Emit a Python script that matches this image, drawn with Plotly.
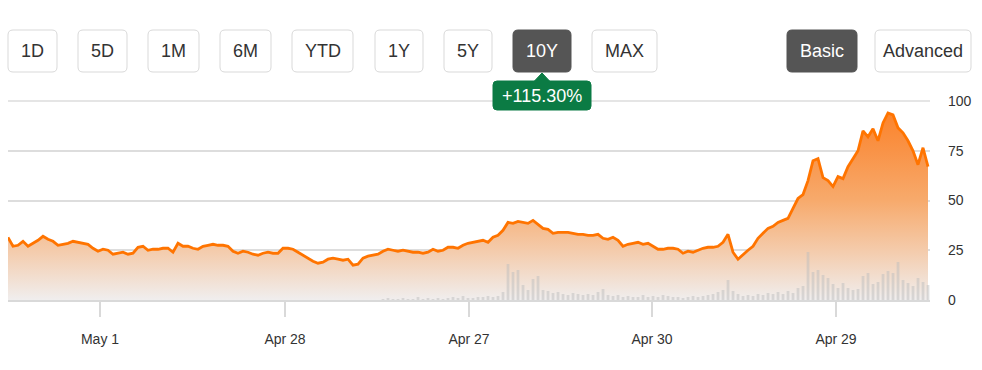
import plotly.graph_objects as go

# ---------------- data ----------------
PRICE = [
    31.5, 27, 27.5, 29.5, 27, 28.5, 30, 32, 30.5, 29.5,
    27.5, 28, 28.5, 29.5, 29, 28.5, 28, 26, 24.5, 25.5,
    25, 23, 23.5, 24, 23, 23.5, 26.5, 27, 25, 25.5,
    25.5, 26, 26, 24, 28.5, 27, 27, 26, 25.5, 27,
    27.5, 28, 27.5, 27.5, 27, 24.5, 23.5, 24.5, 24, 23,
    22.5, 23.5, 24, 23.5, 23.5, 26, 26, 25.5, 24, 22.5,
    21, 19.5, 18.5, 19, 20.5, 21, 20.5, 20, 20.5, 17.5,
    18, 21, 22, 22.5, 23, 24.5, 25.5, 25, 24.5, 25,
    24.5, 24, 24, 23.5, 24, 25.5, 24.5, 25, 26.5, 26.5,
    26, 27.5, 28.5, 29, 29.5, 30, 29, 31.5, 32.5, 35,
    39, 38.5, 39.5, 39, 38.5, 40, 38, 36, 35.5, 33.5,
    34, 34, 34, 33.5, 33, 33, 32.5, 32.5, 33, 31,
    30.5, 31.5, 30, 27, 28, 28.5, 29, 28, 28.5, 27,
    25.5, 25.5, 26, 26, 25.5, 23.5, 24.5, 24, 25, 26,
    26.5, 26.5, 27, 29, 33, 24, 20.5, 23, 25, 27,
    31, 33.5, 36, 37, 39, 40, 41, 46, 51, 53,
    60, 70, 71, 61.5, 60, 57, 62, 61, 67, 71,
    75, 85, 82, 86, 80, 89, 94, 93, 86.5, 84,
    80, 75, 68, 76.5, 67,
]

VOLUME = [0] * 75 + [
    1, 2, 1, 1, 2, 1, 1, 3, 1, 2, 1, 2, 1, 2, 3, 2, 4, 2, 2, 3, 3, 4, 3, 4, 8,
    36, 28, 30, 15, 10, 21, 24, 10, 9, 7,
    8, 6, 5, 7, 6, 5, 6, 5, 8, 11,
    5, 4, 5, 3, 4, 3, 3, 5, 3, 4,
    3, 5, 4, 3, 3, 2, 3, 4, 3, 4,
    5, 6, 8, 10, 20, 9, 6, 4, 5, 4,
    6, 5, 7, 6, 8, 6, 9, 7, 12, 14,
    48, 28, 30, 25, 22, 16, 12, 17, 12, 10,
    11, 24, 27, 16, 18, 26, 29, 27, 38, 20,
    17, 14, 22, 18, 15,
]

TICK_LABELS = ["May 1", "Apr 28", "Apr 27", "Apr 30", "Apr 29"]
Y_TICKS = [0, 25, 50, 75, 100]
RANGE_BUTTONS = ["1D", "5D", "1M", "6M", "YTD", "1Y", "5Y", "10Y", "MAX"]
ACTIVE_RANGE = "10Y"
MODE_BUTTONS = ["Basic", "Advanced"]
ACTIVE_MODE = "Basic"
CHANGE_LABEL = "+115.30%"

# ---------------- layout constants ----------------
W, H = 982, 370
L, R, T, B = 8, 52, 100, 70
PW, PH = W - L - R, H - T - B
TICK_POS = [18.4, 55.4, 92.2, 128.8, 165.6]
FONT = "Liberation Sans, Arial, sans-serif"
TEXT = "#333333"
GRID = "#dddddd"

x = list(range(len(PRICE)))


def px(xp):
    return (xp - L) / PW


def py(yp):
    return (H - B - yp) / PH


def rounded_rect(x0, y0, x1, y1, r=5):
    X0, X1 = px(x0), px(x1)
    Y0, Y1 = py(y0), py(y1)  # Y0 is top (larger)
    rx, ry = r / PW, r / PH
    return (f"M {X0+rx},{Y0} L {X1-rx},{Y0} Q {X1},{Y0} {X1},{Y0-ry} "
            f"L {X1},{Y1+ry} Q {X1},{Y1} {X1-rx},{Y1} L {X0+rx},{Y1} "
            f"Q {X0},{Y1} {X0},{Y1+ry} L {X0},{Y0-ry} Q {X0},{Y0} {X0+rx},{Y0} Z")


def label(text, cx, cy, color):
    return dict(xref="paper", yref="paper", x=px(cx), y=py(cy),
                xanchor="center", yanchor="middle", text=text, showarrow=False,
                font=dict(family=FONT, size=18, color=color))


fig = go.Figure()

fig.add_trace(go.Scatter(
    x=x, y=PRICE, mode="lines",
    line=dict(color="#ff7400", width=2.8),
    fill="tozeroy",
    fillgradient=dict(
        type="vertical", start=0, stop=100,
        colorscale=[[0, "#f0eeee"], [0.25, "#f4cbab"], [0.5, "#f7aa6c"],
                    [0.75, "#f99347"], [1, "#fc7f22"]],
    ),
    hoverinfo="skip", showlegend=False,
))

fig.add_trace(go.Bar(
    x=x, y=VOLUME, yaxis="y2",
    marker=dict(color="rgba(190,190,190,0.5)", line=dict(width=0)),
    hoverinfo="skip", showlegend=False,
))

shapes = []
annotations = []

# top gridline (value max tick), drawn explicitly under the traces
shapes.append(dict(type="line", xref="paper", yref="y", x0=0, x1=1,
                   y0=Y_TICKS[-1], y1=Y_TICKS[-1], layer="below",
                   line=dict(color=GRID, width=1.5)))

btn_boxes = [(8, 57), (78, 127), (148, 199), (220, 271), (292, 353),
             (375, 423), (444, 492), (513, 571), (592, 657)]
mode_boxes = [(787, 857), (875, 971)]
buttons = ([(t, bx, t == ACTIVE_RANGE) for t, bx in zip(RANGE_BUTTONS, btn_boxes)] +
           [(t, bx, t == ACTIVE_MODE) for t, bx in zip(MODE_BUTTONS, mode_boxes)])
for text, (a, b), active in buttons:
    shapes.append(dict(type="path", xref="paper", yref="paper",
                       path=rounded_rect(a, 30, b, 72),
                       fillcolor="#555555" if active else "#ffffff",
                       line=dict(color="#555555" if active else "#d9d9d9", width=1)))
    annotations.append(label(text, (a + b) / 2, 51,
                             "#ffffff" if active else TEXT))

# change badge
GREEN = "#0b7b44"
shapes.append(dict(type="path", xref="paper", yref="paper",
                   path=rounded_rect(493, 81, 591, 110, 4),
                   fillcolor=GREEN, line=dict(color=GREEN, width=1)))
shapes.append(dict(type="path", xref="paper", yref="paper",
                   path=f"M {px(534)},{py(81.5)} L {px(542)},{py(73)} L {px(550)},{py(81.5)} Z",
                   fillcolor=GREEN, line=dict(color=GREEN, width=1)))
annotations.append(label(CHANGE_LABEL, 542, 96, "#ffffff"))

fig.update_layout(
    width=W, height=H,
    margin=dict(l=L, r=R, t=T, b=B),
    paper_bgcolor="#ffffff", plot_bgcolor="#ffffff",
    font=dict(family=FONT, size=14, color=TEXT),
    bargap=0.45,
    xaxis=dict(range=[0, PW / 5], tickvals=TICK_POS, ticktext=TICK_LABELS,
               showgrid=False, zeroline=False, showline=True,
               linecolor="#d9d9d9", linewidth=2,
               ticks="outside", ticklen=15, tickcolor="#d9d9d9", tickwidth=2,
               ticklabelstandoff=10,
               tickfont=dict(family=FONT, size=14, color=TEXT),
               fixedrange=True),
    yaxis=dict(range=[0, 100.5], tickvals=Y_TICKS, side="right",
               showgrid=True, gridcolor=GRID, gridwidth=1.5,
               zeroline=False, showline=False, ticks="",
               ticklabelstandoff=17,
               tickfont=dict(family=FONT, size=14, color=TEXT),
               fixedrange=True),
    yaxis2=dict(range=[0, PH], overlaying="y", visible=False, fixedrange=True),
    shapes=shapes,
    annotations=annotations,
    hovermode=False,
)

fig.write_html("out.html", config={"displayModeBar": False},
               post_script="document.body.style.margin='0';document.body.style.padding='0';")
